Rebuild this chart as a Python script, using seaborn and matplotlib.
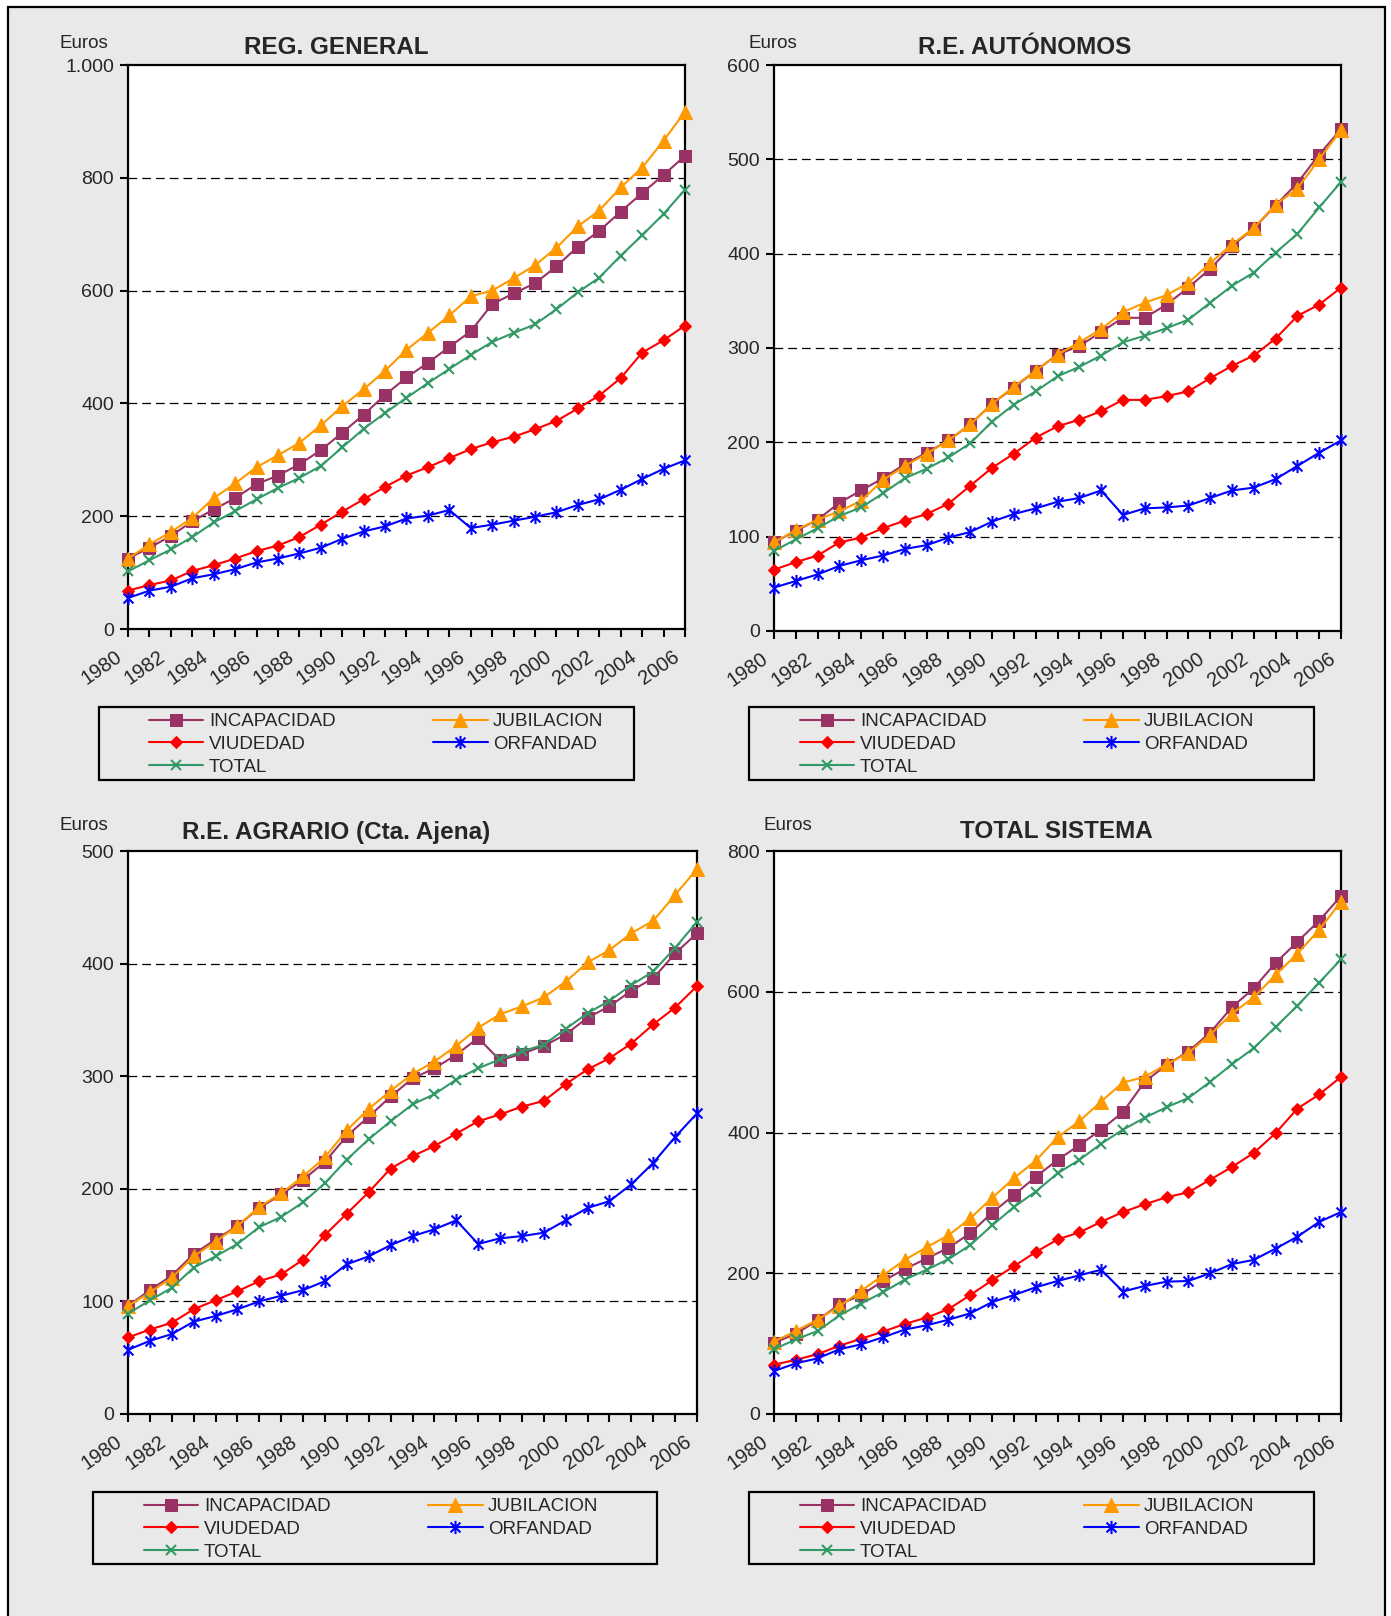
import numpy as np
import matplotlib
matplotlib.use("Agg")
import matplotlib.pyplot as plt
from matplotlib.patches import Rectangle
from matplotlib.path import Path
from matplotlib.ticker import FuncFormatter
from matplotlib.transforms import ScaledTranslation
import seaborn as sns

years = list(range(1980, 2007))

# REG. GENERAL
gen_incap = [125, 144, 165, 191, 212, 232, 257, 272, 292, 317, 348, 380, 415, 446, 472, 500, 528,
             576, 595, 613, 643, 678, 706, 740, 773, 805, 839]
gen_jubil = [125, 150, 172, 197, 232, 258, 287, 308, 330, 361, 395, 425, 458, 495, 525, 556, 590,
             600, 622, 645, 676, 714, 742, 783, 818, 866, 917]
gen_viud = [68, 78, 86, 103, 113, 125, 138, 148, 163, 185, 208, 230, 252, 272, 287, 303, 319,
            331, 341, 354, 369, 391, 414, 445, 490, 512, 538]
gen_orf = [55, 68, 75, 90, 97, 106, 118, 125, 134, 144, 160, 173, 182, 196, 201, 211, 179,
           185, 192, 199, 207, 220, 230, 247, 266, 284, 299]
gen_total = [102, 122, 141, 163, 189, 209, 230, 250, 268, 289, 322, 355, 383, 410, 436, 461, 486,
             509, 525, 540, 567, 597, 623, 662, 698, 736, 779]

# R.E. AUTONOMOS
aut_incap = [94, 106, 118, 136, 149, 162, 177, 189, 202, 219, 241, 258, 276, 293, 302, 317, 332,
             332, 346, 364, 384, 408, 427, 451, 475, 505, 532]
aut_jubil = [94, 107, 118, 127, 138, 160, 175, 188, 202, 219, 241, 259, 276, 293, 306, 320, 338,
             348, 356, 369, 390, 410, 427, 452, 469, 500, 531]
aut_viud = [65, 73, 80, 94, 99, 109, 117, 124, 135, 154, 173, 188, 205, 217, 224, 233, 245,
            245, 249, 254, 268, 281, 292, 310, 334, 346, 364]
aut_orf = [46, 53, 60, 69, 75, 80, 87, 91, 99, 105, 116, 124, 130, 137, 141, 149, 123,
           130, 131, 133, 141, 149, 152, 161, 175, 189, 202]
aut_total = [85, 97, 109, 122, 131, 146, 162, 172, 184, 199, 222, 240, 254, 270, 280, 292, 306,
             313, 321, 330, 348, 366, 380, 401, 421, 449, 476]

# R.E. AGRARIO (Cta. Ajena)
agr_incap = [96, 110, 123, 142, 155, 167, 183, 195, 208, 224, 247, 264, 282, 298, 307, 319, 334,
             314, 320, 327, 337, 352, 362, 376, 387, 409, 427]
agr_jubil = [96, 108, 121, 140, 153, 167, 184, 196, 211, 228, 252, 271, 287, 302, 313, 327, 343,
             355, 362, 370, 384, 401, 412, 427, 438, 461, 484]
agr_viud = [68, 75, 81, 93, 101, 109, 118, 124, 137, 159, 178, 197, 218, 229, 238, 249, 260,
            266, 273, 278, 293, 306, 316, 329, 346, 361, 380]
agr_orf = [57, 65, 71, 82, 87, 93, 100, 105, 110, 118, 133, 140, 150, 158, 164, 172, 151,
           156, 158, 161, 172, 183, 189, 204, 223, 246, 267]
agr_total = [89, 101, 112, 130, 140, 151, 166, 175, 188, 205, 226, 244, 260, 275, 284, 297, 307,
             315, 322, 328, 342, 356, 367, 381, 393, 414, 437]

# TOTAL SISTEMA
tot_incap = [101, 114, 133, 156, 169, 189, 206, 221, 236, 257, 286, 311, 337, 361, 382, 404, 429,
             472, 496, 515, 542, 578, 605, 641, 671, 701, 736]
tot_jubil = [103, 118, 134, 153, 175, 197, 219, 237, 254, 278, 307, 335, 360, 393, 416, 444, 471,
             479, 497, 513, 539, 569, 592, 624, 654, 688, 728]
tot_viud = [70, 77, 85, 97, 107, 117, 128, 137, 149, 169, 190, 210, 230, 248, 258, 273, 287,
            298, 308, 315, 333, 351, 371, 399, 434, 454, 479]
tot_orf = [61, 72, 79, 92, 99, 109, 120, 126, 134, 143, 159, 169, 180, 189, 197, 205, 174,
           182, 188, 189, 200, 213, 219, 235, 252, 273, 287]
tot_total = [92, 106, 118, 140, 157, 173, 191, 205, 220, 240, 268, 294, 316, 342, 361, 384, 404,
             421, 436, 449, 472, 497, 520, 550, 580, 613, 646]

series_names = ["INCAPACIDAD", "JUBILACION", "VIUDEDAD", "ORFANDAD", "TOTAL"]
titles = ["REG. GENERAL", "R.E. AUTÓNOMOS", "R.E. AGRARIO (Cta. Ajena)", "TOTAL SISTEMA"]
y_max = [1000, 600, 500, 800]
y_step = [200, 100, 100, 200]

panel_data = [
    [gen_incap, gen_jubil, gen_viud, gen_orf, gen_total],
    [aut_incap, aut_jubil, aut_viud, aut_orf, aut_total],
    [agr_incap, agr_jubil, agr_viud, agr_orf, agr_total],
    [tot_incap, tot_jubil, tot_viud, tot_orf, tot_total],
]

star = Path([(0, -1), (0, 1), (-0.75, -0.75), (0.75, 0.75), (-0.75, 0.75), (0.75, -0.75)],
            [Path.MOVETO, Path.LINETO] * 3)
styles = {
    "INCAPACIDAD": dict(color="#993366", marker="s", markersize=8),
    "JUBILACION": dict(color="#FF9900", marker="^", markersize=9.5),
    "VIUDEDAD": dict(color="#FF0000", marker="D", markersize=6.5),
    "ORFANDAD": dict(color="#0000FF", marker=star, markersize=9.5, markeredgewidth=1.5),
    "TOTAL": dict(color="#339966", marker="x", markersize=7.5, markeredgewidth=1.5),
}

sns.set_theme(style="white")
plt.rcParams["font.family"] = ["Liberation Sans", "DejaVu Sans"]
plt.rcParams["xtick.labelsize"] = 14.5
plt.rcParams["ytick.labelsize"] = 14

W, H = 1391, 1616
BG = "#e9e9e9"
fig = plt.figure(figsize=(W / 100, H / 100), dpi=100, facecolor="white")

# gray page with outer border
fig.patches.append(Rectangle((8 / W, -0.01), (1385 - 8) / W, 1.01 - 7 / H, transform=fig.transFigure,
                             facecolor=BG, edgecolor="black", linewidth=1.6, zorder=-10))

# pixel boxes: left, right, top, bottom
axes_px = [(128, 685, 65, 629), (774, 1341, 65, 631), (128, 697, 851, 1414), (774, 1341, 851, 1414)]
legend_box = [(99, 634, 707, 780), (749, 1314, 707, 780), (93, 657, 1492, 1564), (749, 1314, 1492, 1564)]
legend_handle_x = [149, 800, 144, 800]
euros_pos = [(84, 43), (773, 43), (84, 826), (788, 826)]
title_pos = [(336, 48), (1025, 48), (336, 832), (1056, 832)]


def fmt_euro(v, pos):
    return f"{int(v):,}".replace(",", ".")


for i in range(4):
    l, r, t, b = axes_px[i]
    ax = fig.add_axes([l / W, 1 - b / H, (r - l) / W, (b - t) / H])
    ax.set_facecolor("white")
    for name, vals in zip(series_names, panel_data[i]):
        st = styles[name]
        sns.lineplot(x=years, y=vals, ax=ax, label=name, linewidth=1.5,
                     markeredgecolor=st["color"], clip_on=False, zorder=3, **st)

    ax.set_xlim(1980, 2006)
    ax.set_ylim(0, y_max[i])
    ax.tick_params(axis="y", labelsize=14, length=6, width=1.5, color="black", pad=4, left=True)
    ax.tick_params(axis="x", labelsize=14.5, length=6, width=1.5, color="black", pad=5, bottom=True)
    ax.set_yticks(np.arange(0, y_max[i] + 1, y_step[i]))
    ax.yaxis.set_major_formatter(FuncFormatter(fmt_euro))
    ax.set_xticks(years)
    ax.set_xticklabels([str(y) if y % 2 == 0 else "" for y in years], rotation=35,
                       ha="right", va="top", rotation_mode="anchor", fontsize=14.5)
    shift = ScaledTranslation(-13 / 100, -3 / 100, fig.dpi_scale_trans)
    for lbl in ax.get_xticklabels():
        lbl.set_transform(lbl.get_transform() + shift)
    ax.set_xlabel("")
    ax.set_ylabel("")
    for sp in ax.spines.values():
        sp.set_color("black")
        sp.set_linewidth(1.6)
    ax.grid(False)
    for yv in np.arange(y_step[i], y_max[i], y_step[i]):
        ax.axhline(yv, color="black", linewidth=0.9, linestyle=(0, (7, 4)), zorder=1)

    # legend
    handles, labels = ax.get_legend_handles_labels()
    order = [0, 2, 4, 1, 3]
    lx = legend_handle_x[i]
    bl, br, bt, bb = legend_box[i]
    ax.legend([handles[k] for k in order], [labels[k] for k in order], ncol=2,
              loc="upper left", bbox_to_anchor=(lx / W, 1 - (bt + 6) / H),
              bbox_transform=fig.transFigure, frameon=False, fontsize=13.5,
              borderpad=0, borderaxespad=0, handlelength=2.9, handletextpad=0.3,
              labelspacing=0.3, columnspacing=5.2)
    fig.patches.append(Rectangle((bl / W, 1 - bb / H), (br - bl) / W, (bb - bt) / H,
                                 transform=fig.transFigure, fill=False, edgecolor="black",
                                 linewidth=1.6))

    ex, ey = euros_pos[i]
    fig.text(ex / W, 1 - ey / H, "Euros", ha="center", va="center", fontsize=13.5)
    tx, ty = title_pos[i]
    fig.text(tx / W, 1 - ty / H, titles[i], ha="center", va="center", fontsize=17.5,
             fontweight="bold")

fig.savefig("out.png", dpi=100, facecolor="white")
